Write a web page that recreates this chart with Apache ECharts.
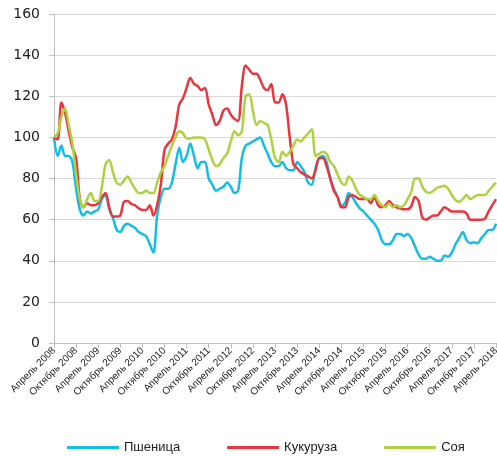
<!DOCTYPE html>
<html>
<head>
<meta charset="utf-8">
<script src="https://cdn.jsdelivr.net/npm/echarts@6/dist/echarts.min.js"></script>
<style>
  html, body { margin: 0; padding: 0; background: #fff; }
  #chart { width: 497px; height: 456px; }
</style>
</head>
<body>
<div id="chart"></div>
<script>
// месяцы с апреля 2008 по апрель 2018
const monthNames = ['Январь', 'Февраль', 'Март', 'Апрель', 'Май', 'Июнь',
  'Июль', 'Август', 'Сентябрь', 'Октябрь', 'Ноябрь', 'Декабрь']
const categories = []
for (let k = 0; k <= 120; k++) {
  const m = (3 + k) % 12
  const y = 2008 + Math.floor((3 + k) / 12)
  categories.push(monthNames[m] + ' ' + y)
}

const yTicks = [0, 20, 40, 60, 80, 100, 120, 140, 160]

const wheat = [
  100, 91, 96, 91, 91, 88, 75, 65, 62, 64,
  63, 64, 65, 70, 72, 65, 61, 55, 54, 57,
  58, 57, 56, 54, 53, 52, 48, 44, 62, 71,
  75, 75, 78, 87, 95, 88, 91, 97, 91, 85,
  88, 88, 80, 77, 74, 75, 76, 78, 76, 73,
  74, 90, 96, 97, 98, 99, 100, 96, 92, 88,
  86, 86, 88, 85, 84, 84, 88, 86, 83, 78,
  77, 85, 90, 91, 88, 80, 75, 71, 67, 68,
  73, 71, 68, 65.5, 64, 62, 60, 58, 55, 50,
  48, 48, 50, 53, 53, 52, 53, 51, 47, 43,
  41, 41, 42, 41, 40, 40, 42.5, 42, 44, 48,
  51, 54, 50, 48.5, 49, 48.5, 51, 53, 55, 55, 58
]

const corn = [
  100, 99, 117, 112, 103, 95, 90, 70, 66, 68,
  67, 67, 68, 71, 73, 66, 61.5, 61.5, 62, 68.7,
  69, 67.6, 67, 65.5, 64.7, 64.7, 67, 62, 67, 77,
  94, 97, 99, 105, 116, 119, 124, 129, 126, 125,
  123, 124, 116, 111, 106, 108, 113, 114, 111, 109,
  108, 125, 135, 133, 131, 131, 128, 124, 123, 126,
  117, 117, 121, 116, 100, 87, 85, 83, 82, 81,
  80, 84, 90, 90, 86, 80, 74, 71, 66, 66,
  71, 72, 71, 70, 70, 70, 68, 71, 67, 66,
  67, 69, 67, 66, 65.5, 65, 65, 66.5, 71, 69,
  61, 60, 61, 62, 62, 64, 66, 65, 64, 64,
  64, 64, 63, 60, 60, 60, 60, 60.5, 64, 67, 70
]

const soy = [
  100, 102, 110, 114, 106, 97, 82, 70, 66, 70,
  73, 69, 69, 76, 87, 89, 83, 78, 77, 79,
  81, 78, 75, 73, 73, 74, 73, 73, 78, 83,
  86, 91, 96, 100, 103, 102, 99.5, 99.5, 100, 100,
  100, 99, 94, 89, 86, 87, 90, 92, 98, 103,
  101, 103, 120, 121, 113, 106, 108, 107, 106, 99,
  90, 88, 93, 91, 93, 96, 99, 98, 100, 102,
  104, 91, 92, 93, 92, 88, 86, 82, 78, 77,
  81, 79, 75, 72, 71, 70, 70, 72, 69, 67,
  66, 68, 66, 67, 66, 67, 70, 73.5, 80, 80,
  76, 73.5, 73, 74, 75.5, 76, 76.5, 75, 72, 69.5,
  68.7, 70, 72, 70, 71, 72, 72, 72, 74, 76, 78
]

const seriesNames = ['Пшеница', 'Кукуруза', 'Соя']
const colors = ['#14bde6', '#e9353d', '#aed23f']

const chart = echarts.init(document.getElementById('chart'), null, { renderer: 'canvas' })

const option = {
  backgroundColor: '#ffffff',
  animation: false,
  color: colors,
  textStyle: { fontFamily: 'Liberation Sans' },
  grid: {
    left: 54,
    right: 1,
    top: 14,
    bottom: 113,
    containLabel: false,
    outerBoundsMode: 'none'
  },
  legend: {
    data: seriesNames,
    left: 62,
    top: 436,
    icon: 'rect',
    itemWidth: 52,
    itemHeight: 3,
    itemGap: 47,
    textStyle: { fontSize: 13, color: '#222', fontFamily: 'Liberation Sans' }
  },
  xAxis: {
    type: 'category',
    data: categories,
    boundaryGap: false,
    axisLine: { lineStyle: { color: '#bfbfbf', width: 1 } },
    axisTick: { show: true, interval: 5, length: 5, lineStyle: { color: '#bfbfbf' } },
    axisLabel: {
      interval: 5,
      rotate: 45,
      fontSize: 10,
      color: '#222',
      margin: 6,
      fontFamily: 'Liberation Sans'
    },
    splitLine: { show: false }
  },
  yAxis: {
    type: 'value',
    min: yTicks[0],
    max: yTicks[yTicks.length - 1],
    interval: yTicks[1] - yTicks[0],
    axisLine: { show: true, lineStyle: { color: '#bfbfbf', width: 1 } },
    axisTick: { show: true, length: 5, lineStyle: { color: '#bfbfbf' } },
    axisLabel: { fontSize: 14, color: '#222', margin: 14, fontFamily: 'DejaVu Sans' },
    splitLine: { lineStyle: { color: '#d9d9d9', width: 1 } }
  },
  series: [wheat, corn, soy].map((vals, i) => ({
    name: seriesNames[i],
    type: 'line',
    data: vals,
    smooth: 0.3,
    symbol: 'none',
    lineStyle: { width: 2.5, color: colors[i] },
    itemStyle: { color: colors[i] }
  }))
}

chart.setOption(option)
</script>
</body>
</html>
